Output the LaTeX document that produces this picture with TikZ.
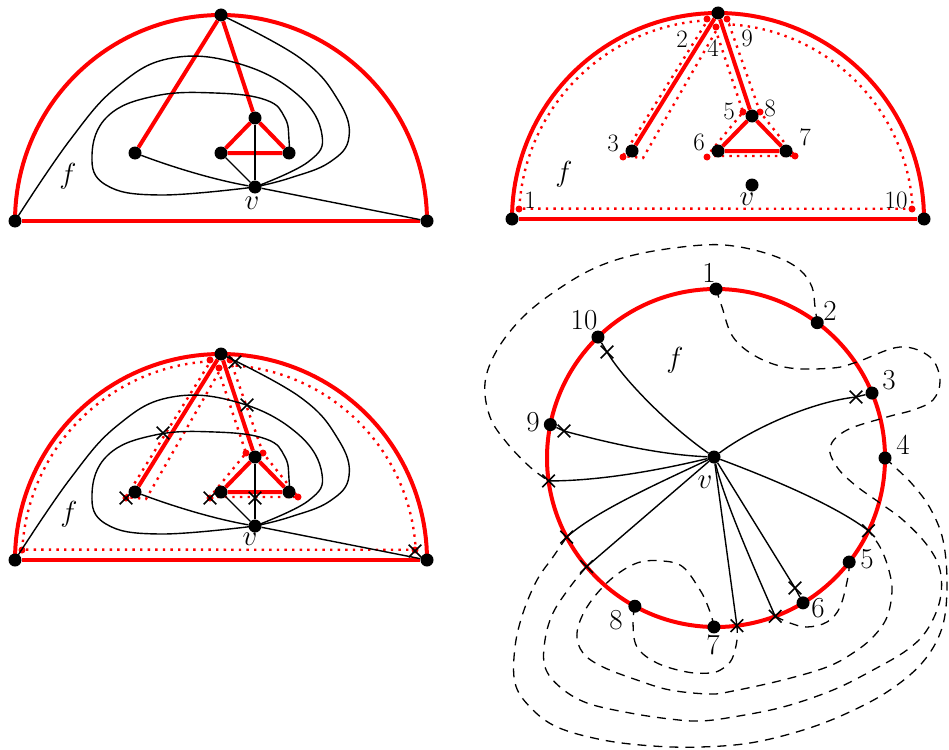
\RequirePackage{fix-cm}
\documentclass[tikz,border=0pt]{standalone}
\usepackage{tikz}
\usetikzlibrary{shapes.misc}
\definecolor{facered}{HTML}{FF0000}

% vertices and red edges of the half disk
\newcommand{\halfdisk}{%
  \draw[redline] plot[domain=180:360, samples=90] ({221+206*cos(\x)}, {221+206*sin(\x)});
  \node[vtx] (A) at (15,221) {};
  \node[vtx] (B) at (427,221) {};
  \node[vtx] (T) at (221,15) {};
  \node[vtx] (p3) at (135,153) {};
  \node[vtx] (p5) at (255,118) {};
  \node[vtx] (p6) at (221,153) {};
  \node[vtx] (p7) at (289,153) {};
  \node[vtx] (v) at (255,187) {};
  \draw[redline] (A) -- (B);
  \draw[redline] (T) -- (p3);
  \draw[redline] (T) -- (p5);
  \draw[redline] (p5) -- (p6) -- (p7) -- (p5);
}
% black edges at v
\newcommand{\vedges}{%
  \draw[blkline] plot[smooth, tension=0.7] coordinates {(T) (300,58) (338,100) (349,137) (330,162) (290,178) (v)};
  \draw[blkline] plot[smooth, tension=0.7] coordinates {(A) (70,140) (118,86) (172,58) (240,64) (298,95) (322,135) (308,162) (v)};
  \draw[blkline] plot[smooth, tension=0.7] coordinates {(v) (160,195) (106,185) (92,155) (108,116) (155,96) (215,93) (266,100) (285,118) (289,140) (p7)};
  \draw[blkline] (p3) .. controls (175,168) and (215,180) .. (v);
  \draw[blkline] (v) -- (B);
  \draw[blkline] (v) -- (p5);
  \draw[blkline] (v) -- (p6);
}
% dotted walk round the face f
\newcommand{\facewalk}{%
  \draw[walk] plot[domain=183:267, samples=40] ({221+199*cos(\x)}, {221+199*sin(\x)})
    -- (126,158) -- (146,160) -- (219,33) -- (246,114) -- (210,158) -- (298,158) -- (263,114) -- (232,26)
    -- plot[domain=273:357, samples=40] ({221+195*cos(\x)}, {221+195*sin(\x)}) -- cycle;
  \foreach \c/\px/\py in {1/22/211, 2/210/21, 3/126/159, 4/219/29, 5/246/114, 6/210/159, 7/298/158, 8/263/114, 9/230/21, 10/415/211}
    \node[cnr] (c\c) at (\px,\py) {};
}

\begin{document}
\begin{tikzpicture}[x=1pt, y=-1pt,
    vtx/.style={circle, fill=black, inner sep=0pt, minimum size=13pt},
    cnr/.style={circle, fill=facered, inner sep=0pt, minimum size=7pt},
    redline/.style={facered, line width=4pt},
    blkline/.style={line width=1.4pt},
    walk/.style={facered, line width=2.4pt, dash pattern=on 2.4pt off 5.2pt},
    dashline/.style={line width=1.3pt, dash pattern=on 9pt off 7pt},
    xmark/.style={cross out, draw, inner sep=0pt, minimum size=11pt, line width=1.6pt},
    lbl/.style={font=\fontsize{25}{25}\selectfont},
    biglbl/.style={font=\fontsize{29}{29}\selectfont},
    mlbl/.style={font=\fontsize{29}{29}\selectfont}]
\useasboundingbox (0,0) rectangle (949,749);

% top left
\begin{scope}[name prefix=a-]
  \halfdisk
  \vedges
  \node[mlbl] (f) at (68,176) {$f$};
  \node[mlbl] (vl) at (252,203) {$v$};
\end{scope}

% top right
\begin{scope}[shift={(497,-2)}, name prefix=b-]
  \facewalk
  \halfdisk
  \node[mlbl] (f) at (67,176) {$f$};
  \node[mlbl] (vl) at (250,201) {$v$};
  \node[lbl] (l1) at (33,202) {1};
  \node[lbl] (l2) at (185,41) {2};
  \node[lbl] (l3) at (116,145) {3};
  \node[lbl] (l4) at (216,50) {4};
  \node[lbl] (l5) at (232,113) {5};
  \node[lbl] (l6) at (202,144) {6};
  \node[lbl] (l7) at (308,139) {7};
  \node[lbl] (l8) at (273,110) {8};
  \node[lbl] (l9) at (250,40) {9};
  \node[lbl] (l10) at (399,202) {10};
\end{scope}

% bottom left
\begin{scope}[shift={(0,339)}, name prefix=c-]
  \facewalk
  \halfdisk
  \vedges
  \node[xmark] (k1) at (235,23) {};
  \node[xmark] (k2) at (247,66) {};
  \node[xmark] (k3) at (163,94) {};
  \node[xmark] (k4) at (126,159) {};
  \node[xmark] (k5) at (210,159) {};
  \node[xmark] (k6) at (255,159) {};
  \node[xmark] (k7) at (415,212) {};
  \node[mlbl] (f) at (69,175) {$f$};
  \node[mlbl] (vl) at (250,200) {$v$};
\end{scope}

% bottom right
\begin{scope}[name prefix=d-]
  \coordinate (o) at (716,458);
  \draw[redline] (o) circle[radius=169];
  \foreach \i/\a in {1/270, 2/306.8, 3/337.4, 4/0, 5/38, 6/59, 7/90.7, 8/118.7, 9/191.4, 10/225.7}
    \node[vtx] (n\i) at ([shift={(\a:169)}]o) {};
  \foreach \i/\a in {2/172.2, 4/152.1, 1/140, 8/82.9, 5/69.5, 7/25.5}
    \node[xmark] (m\i) at ([shift={(\a:169)}]o) {};
  \node[xmark] (k10) at (607,352) {};
  \node[xmark] (k9) at (564,431) {};
  \node[xmark] (k6) at (795,588) {};
  \node[xmark] (k3) at (856,397) {};
  \node[vtx] (v) at (714,457) {};
  % edges at v
  \draw[blkline] (v) .. controls (672,428) and (625,382) .. (k10.center) -- (n10);
  \draw[blkline] (v) .. controls (660,455) and (605,442) .. (k9.center) -- (n9);
  \draw[blkline] (v) .. controls (660,470) and (600,481) .. (m2.center);
  \draw[blkline] (v) .. controls (650,487) and (595,512) .. (m4.center);
  \draw[blkline] (v) -- (m1.center);
  \draw[blkline] (v) -- (m8.center);
  \draw[blkline] (v) .. controls (724,500) and (755,570) .. (m5.center);
  \draw[blkline] (v) -- (k6.center) -- (n6);
  \draw[blkline] (v) .. controls (770,478) and (835,505) .. (m7.center);
  \draw[blkline] (v) .. controls (750,430) and (810,402) .. (k3.center) -- (n3);
  % dashed curves outside
  \draw[dashline] plot[smooth, tension=0.6] coordinates {(n2) (815,307) (812,287) (800,270) (777,257) (740,247) (703,245) (643,253) (597,267) (557,290) (523,317) (497,350) (485,383) (490,417) (507,443) (530,467) (m2)};
  \draw[dashline] plot[smooth, tension=0.6] coordinates {(n1) (722,307) (733,337) (757,357) (790,368) (833,368) (857,362) (900,347) (930,357) (940,380) (933,400) (913,410) (887,417) (847,430) (830,447) (837,467) (855,485) (880,503) (903,520) (927,545) (940,570) (940,600) (927,630) (907,650) (873,670) (833,690) (783,707) (733,717) (700,721) (670,719) (630,713) (587,703) (560,687) (545,667) (545,640) (553,613) (570,587) (m1)};
  \draw[dashline] plot[smooth, tension=0.6] coordinates {(n4) (897,469) (913,485) (930,508) (943,540) (947,585) (942,628) (922,663) (887,692) (843,715) (800,731) (750,743) (700,747) (653,746) (603,740) (557,727) (530,707) (515,683) (515,647) (523,613) (537,580) (553,557) (m4)};
  \draw[dashline] plot[smooth, tension=0.6] coordinates {(n7) (712,618) (707,604) (700,590) (683,567) (663,561) (637,563) (610,580) (587,607) (577,633) (583,653) (603,667) (637,680) (670,690) (710,694) (733,691) (783,680) (827,667) (853,653) (873,637) (887,617) (892,590) (888,567) (880,547) (m7)};
  \draw[dashline] plot[smooth, tension=0.6] coordinates {(n5) (848,577) (840,607) (827,622) (807,627) (790,623) (m5)};
  \draw[dashline] plot[smooth, tension=0.6] coordinates {(n8) (633,623) (637,647) (657,663) (687,672) (710,673) (722,669) (732,659) (737,640) (m8)};
  % labels
  \node[biglbl] (l1) at (709,273) {1};
  \node[biglbl] (l2) at (830,311) {2};
  \node[biglbl] (l3) at (889,380) {3};
  \node[biglbl] (l4) at (903,445) {4};
  \node[biglbl] (l5) at (867,559) {5};
  \node[biglbl] (l6) at (818,608) {6};
  \node[biglbl] (l7) at (713,645) {7};
  \node[biglbl] (l8) at (616,620) {8};
  \node[biglbl] (l9) at (533,422) {9};
  \node[biglbl] (l10) at (584,320) {10};
  \node[mlbl] (f) at (675,360) {$f$};
  \node[mlbl] (vl) at (705,482) {$v$};
\end{scope}
\end{tikzpicture}
\end{document}
